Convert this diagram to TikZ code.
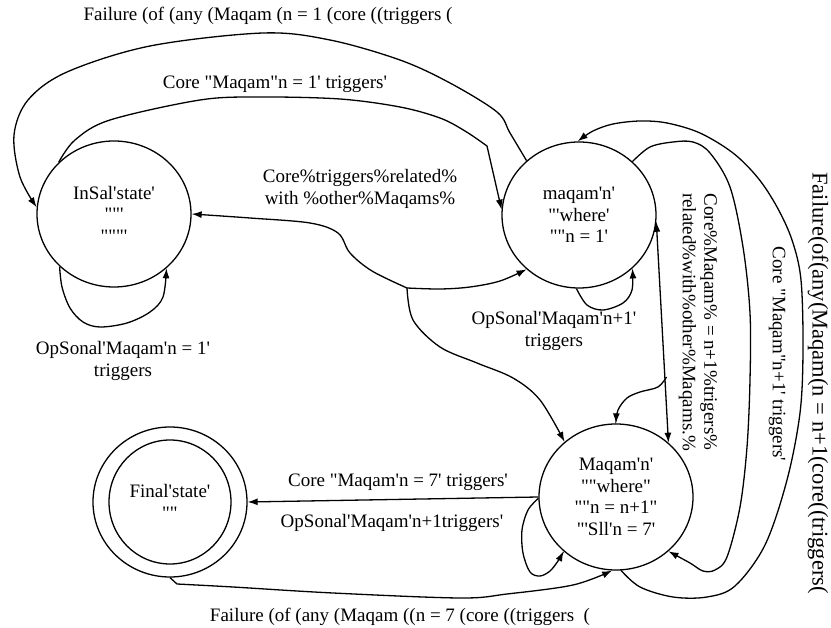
\documentclass[tikz,border=0pt]{standalone}
\usepackage{fontspec}
\setmainfont{Liberation Serif}[Ligatures=TeXOff]
\usetikzlibrary{arrows.meta,shapes.geometric}
\begin{document}
\begin{tikzpicture}[x=1pt,y=-1pt,
  every node/.style={font=\fontsize{19}{21.5}\selectfont},
  state/.style={draw, ellipse, line width=1.3pt, minimum width=154pt, minimum height=146pt, inner sep=0pt, align=center},
  conn/.style={line width=1.3pt, -{Latex[length=10pt,width=7pt]}},
  biconn/.style={line width=1.3pt, {Latex[length=10pt,width=7pt]}-{Latex[length=10pt,width=7pt]}},
  lbl/.style={align=center, inner sep=0pt},
  sm/.style={smooth, tension=0.55}]
\fill[white] (0,0) rectangle (831,628);
\useasboundingbox (0,0) rectangle (831,628);

% states
\node[state] (insal) at (114,214) {InSal'state'\\""'\\"""'};
\node[state] (maqam) at (579,215) {maqam'n'\\"'where'\\""n = 1'};
\node[state] (Maqam) at (616,497) {Maqam'n'\\""where"\\""n = n+1"\\"'Sll'n = 7'};
\node[state, minimum height=150pt] (final) at (170,502) {Final'state'\\""};
\draw[line width=1.3pt] (final.center) ellipse [x radius=61, y radius=62];

% junctions
\coordinate (j1) at (407,288);
\coordinate (j2) at (666.5,377);

% outer top: maqam -> insal
\draw[conn] plot[sm] coordinates {(maqam.134) (510,133) (497,112) (450,83) (400,60) (330,40) (263,33) (150,46) (67,72) (28,100) (14,135) (20,177) (insal.175)};
% inner top: insal -> maqam
\draw[conn] plot[sm] coordinates {(insal.137) (75,140) (110,120) (200,100) (260,97) (340,99) (400,107) (440,118) (465,131) (487,146)} -- (maqam.176);
% junction j1
\draw[conn] plot[sm] coordinates {(j1) (372,271) (350,253) (338,233) (310,223) (250,218) (insal.0)};
\draw[conn] plot[sm] coordinates {(j1) (440,289) (470,287) (500,281) (maqam.226)};
\draw[conn] plot[sm] coordinates {(j1) (413,320) (440,347) (477,363) (513,378) (540,400) (Maqam.133)};
% maqam self loop
\draw[conn] plot[sm] coordinates {(maqam.268) (587,305) (603,310) (623,303) (632,290) (maqam.315)};
% vertical double arrow + branch
\draw[biconn] (maqam.355) -- (Maqam.46);
\draw[conn] plot[sm] coordinates {(j2) (658,387) (640,392) (627,398) (618,410) (Maqam.90)};
% inner right curve: maqam -> Maqam
\draw[conn] plot[sm] coordinates {(maqam.45) (650,147) (673,142) (693,142) (710,153) (730,187) (743,247) (750,313) (750,380) (747,447) (740,507) (727,557) (715,570) (703,571) (690,563) (Maqam.314)};
% outer right curve: Maqam -> maqam
\draw[conn] plot[sm] coordinates {(Maqam.274) (640,587) (673,597) (707,597) (735,586) (765,545) (787,480) (800,413) (803,350) (801,280) (792,240) (777,207) (758,178) (733,153) (700,133) (667,123) (640,121) (613,124) (593,131) (maqam.91)};
% bottom failure: final -> Maqam
\draw[conn] (final.270) -- plot[sm] coordinates {(177,584) (233,587) (333,593) (460,598) (507,594) (573,585) (Maqam.267)};
% horizontal Maqam -> final
\draw[conn] (Maqam.180) -- (final.0);
% Maqam self loop
\draw[conn] plot[sm] coordinates {(Maqam.181) (528,510) (522,530) (523,553) (530,572) (540,576) (550,571) (558,561) (Maqam.226)};
% insal self loop
\draw[conn] plot[sm] coordinates {(insal.224) (62,287) (70,308) (83,322) (100,327) (127,323) (150,312) (163,297) (insal.314)};

% labels
\node[lbl] (l1) at (268,16) {Failure (of (any (Maqam (n = 1 (core ((triggers (};
\node[lbl] (l2) at (275,84) {Core "Maqam"n = 1' triggers'};
\node[lbl] (l3) at (360,189) {Core\%triggers\%related\%\\with \%other\%Maqams\%};
\node[lbl] (l4) at (554,331) {OpSonal'Maqam'n+1'\\triggers};
\node[lbl, rotate=-90] (l5) at (698,322) {Core\%Maqam\% = n+1\%trigers\%\\related\%with\%other\%Maqams.\%};
\node[lbl, rotate=-90] (l6) at (777,354) {Core "Maqam"n+1' triggers'};
\node[lbl, rotate=-90, font=\fontsize{22.5}{25}\selectfont] (l7) at (818,383) {Failure(of(any(Maqam(n = n+1(core((triggers(};
\node[lbl] (l8) at (398,482) {Core "Maqam'n = 7' triggers'};
\node[lbl] (l9) at (392,523) {OpSonal'Maqam'n+1triggers'};
\node[lbl] (l10) at (400,617) {Failure (of (any (Maqam ((n = 7 (core ((triggers~~(};
\node[lbl] (l11) at (123,361) {OpSonal'Maqam'n = 1'\\triggers};
\end{tikzpicture}
\end{document}
